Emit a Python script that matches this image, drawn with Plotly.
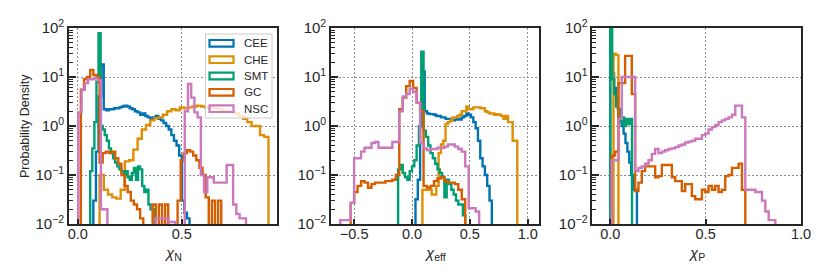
import numpy as np
import plotly.graph_objects as go
from plotly.subplots import make_subplots

labels = ["CEE", "CHE", "SMT", "GC", "NSC"]
colors = ["#0173b2", "#de8f05", "#029e73", "#d55e00", "#cc78bc"]

# ---- chi_N panel (probability density per bin, 0 = empty bin)
cee_n_edges = np.linspace(0.075, 0.5375, 38)
cee_n = [0.03, 0.3, 4, 18, 2.2, 2.1, 2.2, 2.2, 2.3, 2.3, 2.4, 2.5, 2.6, 2.5, 2.3, 2.2, 2.0, 1.9, 1.7,
         1.8, 1.6, 1.5, 1.4, 1.5, 1.6, 1.4, 1.3, 1.15, 1.0, 0.85, 0.65, 0.5, 0.4, 0.25, 0.03, 0.017, 0.013]
che_n_edges = np.linspace(0.105, 0.917, 41)
che_n = [0.1, 0.05, 0.04, 0.035, 0.033, 0.05, 0.19, 0.2, 0.33, 0.55, 0.85, 1.05, 1.3, 1.45, 1.5, 1.7,
         2.0, 2.2, 2.1, 2.4, 2.3, 2.4, 2.5, 2.6, 2.5, 2.4, 2.4, 2.3, 2.2, 2.1, 2.0, 1.9, 1.8, 1.6, 1.4,
         1.2, 1.0, 1.0, 0.65, 0.6]
smt_n_edges = np.linspace(0.06, 0.37, 32)
smt_n = [0.12, 0.35, 1.2, 8, 78, 1.0, 0.85, 0.65, 0.5, 0.35, 0.28, 0.22, 0.18, 0.15, 0.13, 0.12, 0.1,
         0.12, 0.09, 0.08, 0.11, 0.14, 0.08, 0.15, 0.13, 0.06, 0.045, 0.05, 0.025, 0.02, 0.02]
gc_n_edges = np.linspace(0.015, 0.69, 46)
gc_n = [5.5, 9, 10, 14, 11, 10, 0.18, 0.28, 0.3, 0.28, 0.3, 0.22, 0.17, 0.1, 0.06, 0.045, 0.03, 0.025,
        0.02, 0.013, 0, 0, 0, 0.025, 0, 0.025, 0, 0.025, 0, 0, 0, 0.03, 0.2, 0.28, 0.32, 0.3, 0.25, 0.2,
        0.14, 0.1, 0.035, 0, 0.03, 0, 0.03]
nsc_n_edges = np.linspace(0.003, 0.809, 53)
nsc_n = [1.9, 5.5, 7.5, 9, 9, 9.5, 8.5, 0.02, 0.02, 0, 0, 0, 0, 0, 0, 0, 0, 0, 0, 0, 0, 0, 0, 0,
         0.013, 0.013, 0.013, 0.013, 0.011, 0.011, 0, 0, 0, 2.0, 7.2, 3.8, 1.9, 1.5, 0.1, 0.045, 0.09,
         0.09, 0.07, 0.07, 0.07, 0.07, 0.16, 0.16, 0.025, 0.016, 0.013, 0.013]

# ---- chi_eff panel
cee_eff_edges = np.linspace(0.03, 0.69, 34)
cee_eff = [0.032, 0.08, 1.0, 13, 2.0, 1.8, 1.75, 1.75, 1.7, 1.6, 1.6, 1.5, 1.5, 1.4, 1.4, 1.3, 1.3,
           1.35, 1.4, 1.35, 1.5, 1.6, 1.8, 1.7, 1.5, 1.2, 0.9, 0.5, 0.22, 0.15, 0.1, 0.06, 0.03]
che_eff_edges = np.linspace(0.09, 0.91, 42)
che_eff = [0.05, 0.05, 0.05, 0.05, 0.04, 0.04, 0.06, 0.28, 0.42, 0.5, 1.1, 1.2, 1.3, 1.5, 1.5, 1.6,
           1.7, 2.0, 2.0, 2.5, 2.2, 2.2, 2.4, 2.4, 2.4, 2.3, 2.3, 2.0, 1.9, 1.8, 1.8, 1.7, 1.75, 1.7,
           1.6, 1.4, 1.6, 1.2, 1.2, 0.5, 0.5]
smt_eff_edges = np.linspace(-0.12, 0.46, 30)
smt_eff = [0.13, 0.16, 0.11, 0.09, 0.08, 0.12, 0.15, 0.2, 0.4, 1.0, 33, 0.8, 0.6, 0.4, 0.28, 0.22,
           0.17, 0.13, 0.11, 0.09, 0.035, 0.08, 0.065, 0.05, 0.04, 0.03, 0.025, 0.025, 0.015]
gc_eff_edges = np.linspace(-0.53, 0.46, 34)
gc_eff = [0.027, 0.045, 0.06, 0.075, 0.07, 0.055, 0.065, 0.07, 0.07, 0.07, 0.075, 0.075, 0.08, 0.1,
          2.2, 3.8, 6.5, 8.3, 6.0, 3.0, 2.0, 0.06, 0.055, 0.06, 0.075, 0.085, 0.09, 0.075, 0.07,
          0.07, 0.065, 0.05, 0.032]
nsc_eff_edges = np.linspace(-0.62, 0.58, 41)
nsc_eff = [0.012, 0.012, 0.012, 0.027, 0.22, 0.22, 0.3, 0.36, 0.36, 0.45, 0.47, 0.36, 0.36, 0.36,
           0.36, 0.47, 0.47, 2.0, 4.0, 4.5, 5.8, 5.0, 3.0, 0.45, 0.35, 0.32, 0.34, 0.34, 0.36, 0.36,
           0.38, 0.42, 0.42, 0.38, 0.34, 0.3, 0.15, 0.021, 0.021, 0.018]

# ---- chi_p panel
cee_p_edges = np.linspace(0.0, 0.14, 15)
cee_p = [30, 12, 6, 3.5, 2.2, 1.4, 1.0, 0.7, 0.45, 0.3, 0.18, 0.1, 0.05, 0.05]
che_p_edges = np.linspace(0.017, 0.043, 3)
che_p = [30, 28]
smt_p_edges = np.linspace(0.0, 0.114, 12)
smt_p = [150, 9, 4.5, 2.5, 1.6, 1.2, 1.5, 1.0, 1.4, 1.1, 1.4]
gc_p_edges = np.linspace(0.008, 0.708, 41)
gc_p = [0.25, 0.3, 7.5, 7.5, 27, 27, 4.5, 0.047, 0.07, 0.12, 0.15, 0.15, 0.15, 0.09, 0.095, 0.16,
        0.16, 0.16, 0.09, 0.075, 0.075, 0.047, 0.065, 0.065, 0.037, 0.032, 0.032, 0.05, 0.045, 0.06,
        0.05, 0.06, 0.045, 0.05, 0.095, 0.1, 0.14, 0.14, 0.17, 0.05]
nsc_p_edges = np.linspace(0.008, 0.8655, 50)
nsc_p = [0.2, 0.2, 1.4, 10, 10, 10, 10, 0.12, 0.14, 0.15, 0.17, 0.2, 0.27, 0.34, 0.28, 0.3, 0.32,
         0.34, 0.35, 0.37, 0.4, 0.42, 0.46, 0.48, 0.5, 0.55, 0.55, 0.65, 0.7, 0.85, 0.95, 1.05, 1.2,
         1.3, 1.4, 1.5, 1.7, 2.6, 2.6, 1.5, 0.05, 0.05, 0.05, 0.045, 0.045, 0.03, 0.018, 0.012, 0.012]

panels = [
    [(cee_n_edges, cee_n), (che_n_edges, che_n), (smt_n_edges, smt_n), (gc_n_edges, gc_n), (nsc_n_edges, nsc_n)],
    [(cee_eff_edges, cee_eff), (che_eff_edges, che_eff), (smt_eff_edges, smt_eff), (gc_eff_edges, gc_eff), (nsc_eff_edges, nsc_eff)],
    [(cee_p_edges, cee_p), (che_p_edges, che_p), (smt_p_edges, smt_p), (gc_p_edges, gc_p), (nsc_p_edges, nsc_p)],
]
x_titles = ["<i>χ</i><sub>N</sub>", "<i>χ</i><sub>eff</sub>", "<i>χ</i><sub>P</sub>"]
x_ranges = [[-0.042, 0.958], [-0.70, 1.095], [-0.094, 1.0]]
x_ticks = [[0.0, 0.5], [-0.5, 0.0, 0.5, 1.0], [0.0, 0.5, 1.0]]

FLOOR = 1e-3  # empty bins drop below the axis like a matplotlib step hist


def step_xy(edges, dens):
    d = [v if v > 0 else FLOOR for v in dens]
    x = [edges[0]] + list(edges) + [edges[-1]]
    y = [FLOOR] + d + [d[-1], FLOOR]
    return x, y


fig = make_subplots(rows=1, cols=3)

for p, series in enumerate(panels):
    for (edges, dens), name, c in zip(series, labels, colors):
        x, y = step_xy(edges, dens)
        fig.add_trace(go.Scatter(x=x, y=y, mode="lines", name=name, line_shape="hv",
                                 line=dict(color=c, width=2.4), showlegend=False,
                                 hoverinfo="skip"), row=1, col=p + 1)

W, H = 830, 277
domains = [[69, 277], [331, 538.7], [592.3, 801]]
ink = "#262626"
font = "Liberation Sans, Arial, sans-serif"
minor_vals = [m * 10.0 ** e for e in range(-2, 2) for m in range(2, 10)]
grid = dict(showgrid=True, gridcolor="#8c8c8c", griddash="1.5px,2.5px", gridwidth=1.2)

for i in range(3):
    fig.update_xaxes(row=1, col=i + 1, automargin=False,
                     domain=[domains[i][0] / W, domains[i][1] / W],
                     range=x_ranges[i], tickvals=x_ticks[i],
                     ticktext=[f"{v:.1f}".replace("-", "−") for v in x_ticks[i]],
                     showline=True, mirror=True, linecolor=ink, linewidth=1.6,
                     ticks="inside", ticklen=5, tickwidth=1.5, tickcolor=ink,
                     ticklabelstandoff=-4,
                     zeroline=False, tickfont=dict(size=14.5, family=font, color=ink), **grid)
    fig.update_yaxes(row=1, col=i + 1, type="log", range=[-2, 2], automargin=False,
                     domain=[1 - 224 / H, 1 - 28 / H],
                     tickvals=[0.01, 0.1, 1, 10, 100],
                     ticktext=["10<sup>−2</sup>", "10<sup>−1</sup>", "10<sup>0</sup>",
                               "10<sup>1</sup>", "10<sup>2</sup>"],
                     showline=True, mirror=True, linecolor=ink, linewidth=1.6,
                     ticks="inside", ticklen=7, tickwidth=1.5, tickcolor=ink,
                     minor=dict(tickvals=minor_vals, ticks="inside", ticklen=4,
                                tickwidth=1, tickcolor=ink, showgrid=False),
                     zeroline=False, tickfont=dict(size=15, family=font, color=ink), **grid)

annotations = []
for i in range(3):
    cx = (domains[i][0] + domains[i][1]) / 2
    annotations.append(dict(x=cx / W, y=1 - 253 / H, xref="paper", yref="paper",
                            xanchor="center", yanchor="middle",
                            text=x_titles[i], showarrow=False,
                            font=dict(size=15, family=font, color=ink)))
annotations.append(dict(x=25 / W, y=1 - 126 / H, xref="paper", yref="paper",
                        xanchor="center", yanchor="middle",
                        text="Probability Density", textangle=-90, showarrow=False,
                        font=dict(size=12.5, family=font, color=ink)))

# legend drawn by hand: open rectangles like matplotlib step patches
shapes = [dict(type="rect", xref="paper", yref="paper", x0=205.5 / W, x1=272 / W,
               y0=1 - 118 / H, y1=1 - 34 / H, line=dict(color="#cccccc", width=1),
               fillcolor="rgba(255,255,255,0.8)", layer="above")]
rows = [43.3, 59.7, 76.0, 92.3, 108.7]
for yc, name, c in zip(rows, labels, colors):
    shapes.append(dict(type="rect", xref="paper", yref="paper", x0=209.5 / W, x1=233.5 / W,
                       y0=1 - (yc + 3.3) / H, y1=1 - (yc - 3.3) / H,
                       line=dict(color=c, width=2.2), fillcolor="rgba(0,0,0,0)", layer="above"))
    annotations.append(dict(x=242 / W, y=1 - yc / H, xref="paper", yref="paper",
                            text=name, showarrow=False, xanchor="left", yanchor="middle",
                            font=dict(size=11.5, family=font, color=ink)))

fig.update_layout(width=W, height=H, margin=dict(l=0, r=0, t=0, b=0, autoexpand=False),
                  paper_bgcolor="white", plot_bgcolor="white", showlegend=False,
                  annotations=annotations, shapes=shapes)

# the page's default 8px body margin would shift the whole figure
fig.write_html("out.html", config={"displayModeBar": False},
               post_script="document.body.style.margin='0px';")
